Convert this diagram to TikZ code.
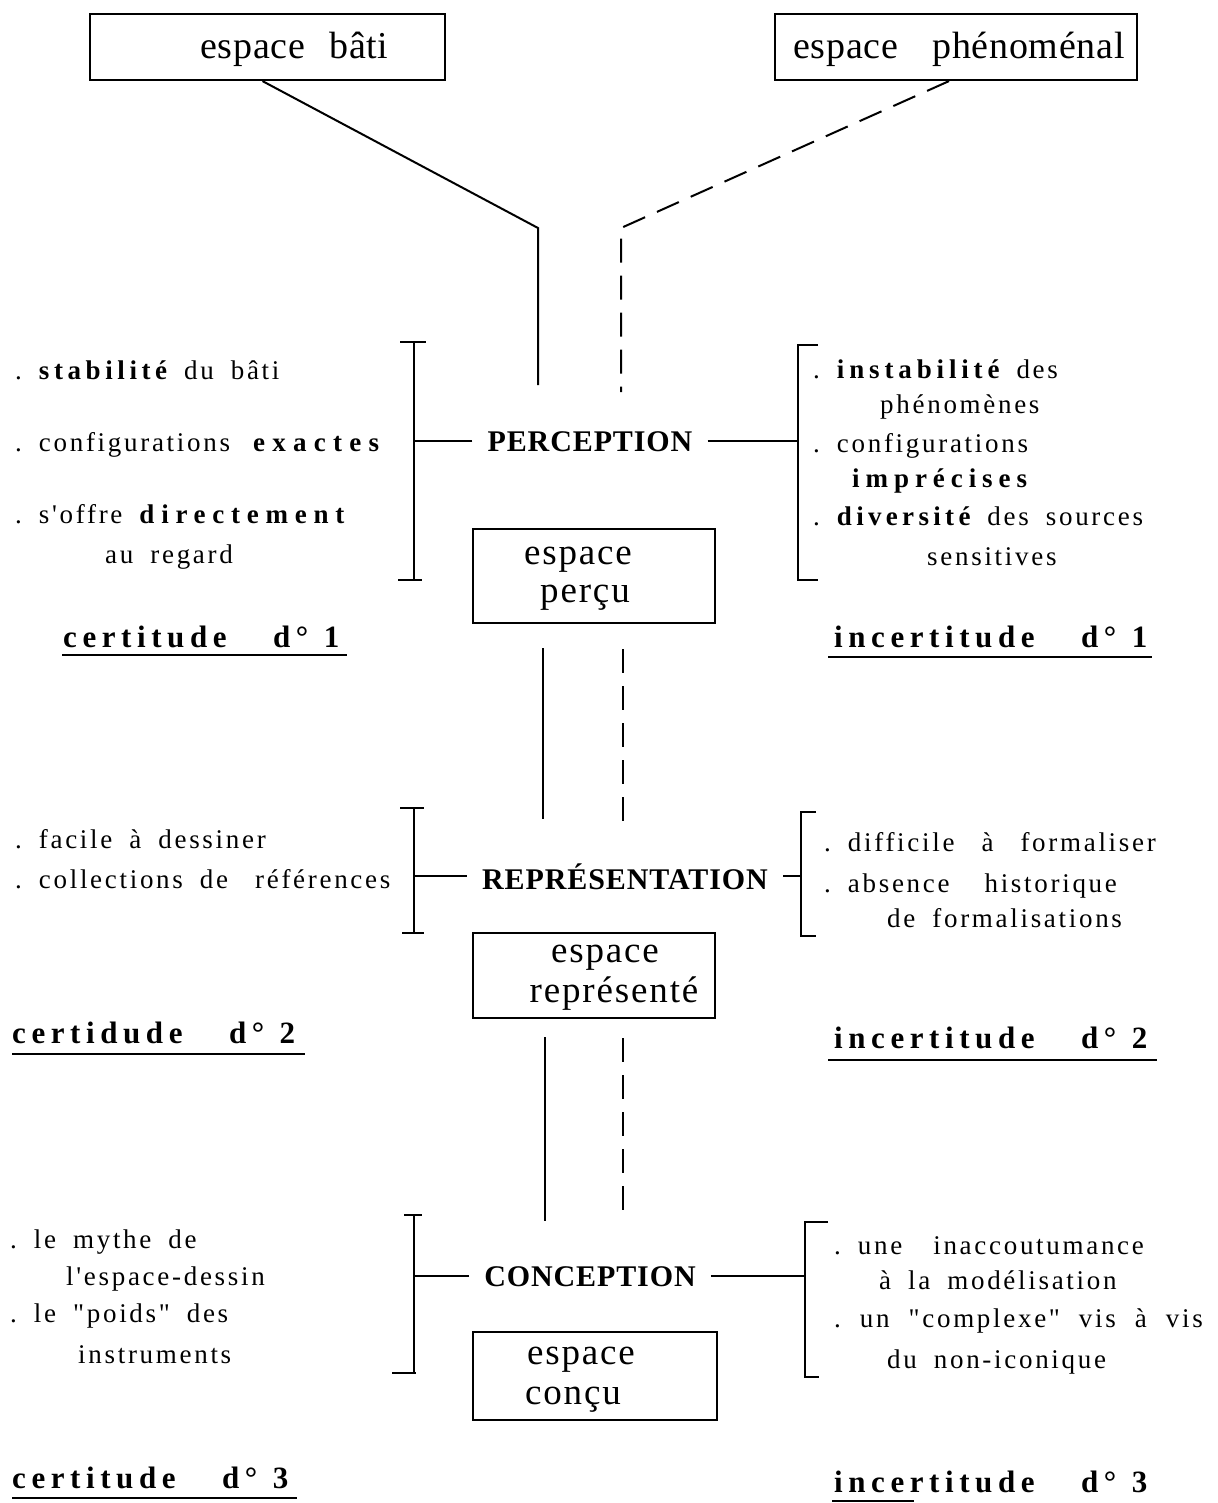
\documentclass[tikz,border=0pt]{standalone}
\usepackage{fontspec}
\setmainfont{Liberation Serif}
\newfontfamily\bodyfam[LetterSpace=10]{Liberation Serif}
\newfontfamily\boxfam[LetterSpace=5]{Liberation Serif}
\newfontfamily\topfam[LetterSpace=2]{Liberation Serif}
\newfontfamily\labfam[LetterSpace=18]{Liberation Serif}
\newfontfamily\capfam[LetterSpace=3]{Liberation Serif}
\newcommand\bw[2][20]{{\bfseries\addfontfeatures{LetterSpace=#1}#2}}
\newcommand\bodyA{\bodyfam\fontsize{27}{32}\selectfont\spaceskip=17pt plus 2pt minus 2pt\relax}
\newcommand\bodyB{\bodyfam\fontsize{27}{32}\selectfont\spaceskip=19pt plus 2pt minus 2pt\relax}
\usetikzlibrary{calc}
\frenchspacing
\begin{document}
\begin{tikzpicture}[x=1pt,y=-1pt,
  body/.style={anchor=base west, inner sep=0pt, font=\bodyA},
  bodyb/.style={anchor=base west, inner sep=0pt, font=\bodyB},
  boxtxt/.style={anchor=base, inner sep=0pt, font=\boxfam\fontsize{37}{44}\selectfont},
  toptxt/.style={anchor=base west, inner sep=0pt, font=\topfam\fontsize{38}{45}\selectfont},
  lab/.style={anchor=base west, inner sep=0pt, font=\labfam\bfseries\fontsize{31}{37}\selectfont},
  caps/.style={anchor=base, inner ysep=2pt, inner xsep=15pt, font=\capfam\bfseries\fontsize{30}{36}\selectfont},
  frame/.style={draw, line width=2.2pt, inner sep=0pt},
  conn/.style={line width=2pt},
  uline/.style={line width=2.6pt},
  dconn/.style={line width=2pt, dash pattern=on 24pt off 13pt},
  brk/.style={line width=2pt}
]
\useasboundingbox (0,0) rectangle (1217,1503);

% top boxes
\node[frame, minimum width=355pt, minimum height=66pt] (bati) at (267.5,47) {};
\node[toptxt] (batit) at (200,59) {espace\hspace{24pt}bâti};
\node[frame, minimum width=362pt, minimum height=66pt] (phen) at (956,47) {};
\node[toptxt] (phent) at (793,59) {espace\hspace{34pt}phénoménal};

\coordinate (k1) at (538,228);
\coordinate (e1) at (538,385);
\draw[conn] ($(bati.south)+(-5,0)$) -- (k1) -- (e1);
\coordinate (k2) at (621,228);
\coordinate (e2) at (621,392);
\draw[dconn] ($(phen.south)+(-7,0)$) -- (k2) -- (e2);

% PERCEPTION row
\node[caps] (perc) at (590,451) {PERCEPTION};
\coordinate (lbt1) at (414,342);
\coordinate (lbb1) at (414,580);
\draw[brk] (lbt1) -- (lbb1);
\draw[brk] ($(lbt1)+(-14,0)$) -- ($(lbt1)+(12,0)$);
\draw[brk] ($(lbb1)+(-16,0)$) -- ($(lbb1)+(8,0)$);
\draw[conn] (perc.west) -- (perc.west -| lbt1);
\coordinate (rbt1) at (798,345);
\coordinate (rbb1) at (798,580);
\draw[brk] ($(rbt1)+(20,0)$) -- (rbt1) -- (rbb1) -- ($(rbb1)+(20,0)$);
\draw[conn] (perc.east) -- (perc.east -| rbt1);

\node[body] (p1) at (15,379) {. \bw[17]{stabilité} du bâti};
\node[body] (p2) at (15,451) {. configurations\hspace{6pt} \bw[27]{exactes}};
\node[body] (p3) at (15,523) {. s'offre \bw[25]{directement}};
\node[body] (p4) at (105,563) {au regard};

\node[body] (q1) at (813,378) {. \bw[18]{instabilité} des};
\node[body] (q2) at (880,413) {phénomènes};
\node[body] (q3) at (813,452) {. configurations};
\node[body] (q4) at (852,487) {\bw[22]{imprécises}};
\node[body] (q5) at (813,525) {. \bw[16]{diversité} des sources};
\node[body] (q6) at (927,565) {sensitives};

\node[frame, minimum width=242pt, minimum height=94pt] (pbox) at (594,576) {};
\node[boxtxt] (pb1) at (578,564) {espace};
\node[boxtxt] (pb2) at (585,602) {perçu};

\node[lab] (c1) at (63,647) {certitude\hspace{1.5em}d°\hspace{0.5em}1};
\coordinate (u1a) at (62,655); \coordinate (u1b) at (347,655);
\draw[uline] (u1a) -- (u1b);
\node[lab] (i1) at (834,647) {incertitude\hspace{1.5em}d°\hspace{0.5em}1};
\coordinate (w1a) at (828,657); \coordinate (w1b) at (1152,657);
\draw[uline] (w1a) -- (w1b);

% connectors perçu -> représenté
\coordinate (s2a) at (543,648); \coordinate (s2b) at (543,819);
\draw[conn] (s2a) -- (s2b);
\coordinate (d2a) at (623,649); \coordinate (d2b) at (623,823);
\draw[dconn] (d2a) -- (d2b);

% REPRESENTATION row
\node[caps] (repr) at (625,889) {REPRÉSENTATION};
\coordinate (lbt2) at (414,808);
\coordinate (lbb2) at (414,933);
\draw[brk] (lbt2) -- (lbb2);
\draw[brk] ($(lbt2)+(-14,0)$) -- ($(lbt2)+(10,0)$);
\draw[brk] ($(lbb2)+(-12,0)$) -- ($(lbb2)+(10,0)$);
\draw[conn] (repr.west) -- (repr.west -| lbt2);
\coordinate (rbt2) at (801,812);
\coordinate (rbb2) at (801,936);
\draw[brk] ($(rbt2)+(15,0)$) -- (rbt2) -- (rbb2) -- ($(rbb2)+(15,0)$);
\draw[conn] (repr.east) -- (repr.east -| rbt2);

\node[body] (r1) at (15,848) {. facile à dessiner};
\node[body] (r2) at (15,888) {. collections de\hspace{10pt} références};
\node[body] (t1) at (824,851) {. difficile\hspace{10pt} à\hspace{10pt} formaliser};
\node[body] (t2) at (824,892) {. absence\hspace{18pt} historique};
\node[body] (t3) at (887,927) {de formalisations};

\node[frame, minimum width=242pt, minimum height=85pt] (rbox) at (594,975.5) {};
\node[boxtxt] (rb1) at (605,962) {espace};
\node[boxtxt] (rb2) at (614,1002) {représenté};

\node[lab] (c2) at (12,1043) {certidude\hspace{1.5em}d°\hspace{0.5em}2};
\coordinate (u2a) at (12,1054); \coordinate (u2b) at (305,1054);
\draw[uline] (u2a) -- (u2b);
\node[lab] (i2) at (834,1048) {incertitude\hspace{1.5em}d°\hspace{0.5em}2};
\coordinate (w2a) at (828,1060); \coordinate (w2b) at (1157,1060);
\draw[uline] (w2a) -- (w2b);

% connectors représenté -> conçu
\coordinate (s3a) at (545,1037); \coordinate (s3b) at (545,1221);
\draw[conn] (s3a) -- (s3b);
\coordinate (d3a) at (623,1038); \coordinate (d3b) at (623,1221);
\draw[dconn] (d3a) -- (d3b);

% CONCEPTION row
\node[caps] (conc) at (590,1286) {CONCEPTION};
\coordinate (lbt3) at (414,1215);
\coordinate (lbb3) at (414,1373);
\draw[brk] (lbt3) -- (lbb3);
\draw[brk] ($(lbt3)+(-10,0)$) -- ($(lbt3)+(8,0)$);
\draw[brk] ($(lbb3)+(-22,0)$) -- ($(lbb3)+(2,0)$);
\draw[conn] (conc.west) -- (conc.west -| lbt3);
\coordinate (rbt3) at (805,1222);
\coordinate (rbb3) at (805,1377);
\draw[brk] ($(rbt3)+(23,0)$) -- (rbt3) -- (rbb3) -- ($(rbb3)+(14,0)$);
\draw[conn] (conc.east) -- (conc.east -| rbt3);

\node[body] (m1) at (10,1248) {. le mythe de};
\node[body] (m2) at (66,1285) {l'espace-dessin};
\node[body] (m3) at (10,1322) {. le "poids" des};
\node[body] (m4) at (78,1363) {instruments};
\node[body] (n1) at (834,1254) {. une\hspace{14pt} inaccoutumance};
\node[body] (n2) at (879,1289) {à la modélisation};
\node[bodyb] (n3) at (834,1327) {. un "complexe" vis à vis};
\node[body] (n4) at (887,1368) {du non-iconique};

\node[frame, minimum width=244pt, minimum height=88pt] (cbox) at (595,1376) {};
\node[boxtxt] (cb1) at (581,1364) {espace};
\node[boxtxt] (cb2) at (573,1404) {conçu};

\node[lab] (c3) at (12,1488) {certitude\hspace{1.5em}d°\hspace{0.5em}3};
\coordinate (u3a) at (12,1498); \coordinate (u3b) at (297,1498);
\draw[uline] (u3a) -- (u3b);
\node[lab] (i3) at (834,1492) {incertitude\hspace{1.5em}d°\hspace{0.5em}3};
\coordinate (w3a) at (832,1501); \coordinate (w3b) at (914,1501);
\draw[uline] (w3a) -- (w3b);
\end{tikzpicture}
\end{document}
